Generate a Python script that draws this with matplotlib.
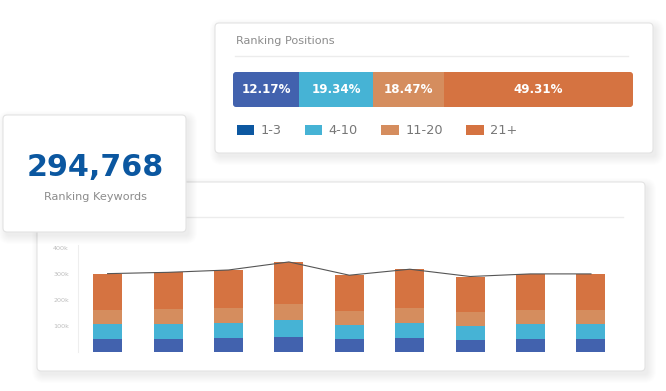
import numpy as np
import matplotlib
matplotlib.use("Agg")
from matplotlib import pyplot as plt
from matplotlib.patches import FancyBboxPatch, Patch

# ranking position shares (%)
position_labels = ['1-3', '4-10', '11-20', '21+']
position_share = [12.17, 19.34, 18.47, 49.31]
total_keywords = 294768

# keywords per period, in thousands
kw_1_3 = [50, 51, 54, 59, 50, 54, 47, 50, 50]
kw_4_10 = [58, 57, 56, 64, 55, 57, 54, 58, 58]
kw_11_20 = [54, 57, 60, 62, 54, 59, 54, 54, 54]
kw_21 = [139, 141, 145, 161, 136, 148, 135, 138, 138]
y_ticks = [100, 200, 300, 400]

bar_colors = ['#4262ae', '#46b3d5', '#d58d5e', '#d57341']
legend_colors = ['#0d58a1', '#46b3d5', '#d58d5e', '#d57341']
gray = '#8c8c8c'

W, H = 666, 391
fig = plt.figure(figsize=(W / 100, H / 100), dpi=100)


def px_axes(z):
    ax = fig.add_axes([0, 0, 1, 1], zorder=z)
    ax.set_xlim(0, W)
    ax.set_ylim(H, 0)
    ax.axis('off')
    ax.patch.set_alpha(0)
    return ax


def card(ax, x, y, w, h):
    '''white card with soft shadow'''
    for i in range(9):
        ax.add_patch(FancyBboxPatch((x + 3 - i, y + 4 - i), w + 2 * i, h + 2 * i,
                                    boxstyle='round,pad=0,rounding_size=%d' % (4 + i),
                                    fc='black', ec='none', alpha=0.0065))
    ax.add_patch(FancyBboxPatch((x, y), w, h, boxstyle='round,pad=0,rounding_size=4',
                                fc='white', ec='#e3e3e3', lw=0.8))


def rect(x0, y0, x1, y1):
    return [x0 / W, 1 - y1 / H, (x1 - x0) / W, (y1 - y0) / H]


ax_bg = px_axes(0)
ax_top = px_axes(3)

# --- Ranking positions card
card(ax_bg, 215, 23, 438, 130)
ax_bg.text(236, 44.5, 'Ranking Positions', color=gray, fontsize=8.1, va='baseline')
ax_bg.plot([235, 628], [55.5, 55.5], color='#ececec', lw=1)

# --- chart card
card(ax_bg, 37, 182, 608, 189)
ax_bg.plot([57, 623], [216.5, 216.5], color='#ececec', lw=1)

# horizontal share bar (small segments get a minimum width so labels fit)
share = np.array(position_share)
min_share = 16.5
small = share < min_share
widths = np.where(small, min_share, share / share[~small].sum() * (100 - min_share * small.sum()))
lefts = np.concatenate([[0], np.cumsum(widths)[:-1]])

ax_h = fig.add_axes(rect(233, 72, 633, 107), zorder=1)
ax_h.set_xlim(0, 100)
ax_h.set_ylim(-0.5, 0.5)
ax_h.axis('off')
ax_h.patch.set_alpha(0)
clip = FancyBboxPatch((233, 72), 400, 35, boxstyle='round,pad=0,rounding_size=3',
                      transform=ax_bg.transData)
bars = ax_h.barh(0, widths, left=lefts, height=1, color=bar_colors, lw=0)
for b, v in zip(bars, position_share):
    b.set_clip_path(clip)
    ax_h.text(b.get_x() + b.get_width() / 2, 0, f'{v:.2f}%', color='white',
              fontsize=8.6, fontweight='bold', ha='center', va='center')

handles = [Patch(fc=c, ec='none') for c in legend_colors]
fig.legend(handles, position_labels, loc='center left', ncol=4,
           bbox_to_anchor=(236.5 / W, 1 - 131 / H), bbox_transform=fig.transFigure,
           frameon=False, fontsize=9.3, labelcolor='#777777', borderpad=0,
           borderaxespad=0, handlelength=1.36, handleheight=0.78,
           handletextpad=0.5, columnspacing=1.8)

# stacked bars
x = np.arange(len(kw_1_3))
ax = fig.add_axes(rect(78, 245, 623, 352), zorder=1)
ax.patch.set_alpha(0)
bottom = np.zeros(len(x))
for vals, c in zip([kw_1_3, kw_4_10, kw_11_20, kw_21], bar_colors):
    ax.bar(x, vals, bottom=bottom, width=0.48, color=c, lw=0)
    bottom += np.array(vals)
ax.plot(x, bottom, color='#555555', lw=0.8)
ax.set_xlim(-0.49, 8.53)
ax.set_ylim(0, 411)
ax.set_yticks(y_ticks)
ax.set_yticklabels([f'{t}k' for t in y_ticks])
ax.set_xticks([])
ax.tick_params(axis='y', length=0, pad=6.5, labelsize=4.6, labelcolor='#bdbdbd')
for s in ['top', 'right', 'bottom']:
    ax.spines[s].set_visible(False)
ax.spines['left'].set_color('#eeeeee')
ax.spines['left'].set_linewidth(0.8)

# --- keyword count card (on top)
card(ax_top, 3, 115, 183, 117)
ax_top.text(95, 175.5, f'{total_keywords:,}', color='#0b57a0', fontsize=21.7,
            fontweight='bold', ha='center', va='baseline')
ax_top.text(95, 200.5, 'Ranking Keywords', color=gray, fontsize=8.1,
            ha='center', va='baseline')

fig.savefig('out.png', dpi=100, facecolor='white')
